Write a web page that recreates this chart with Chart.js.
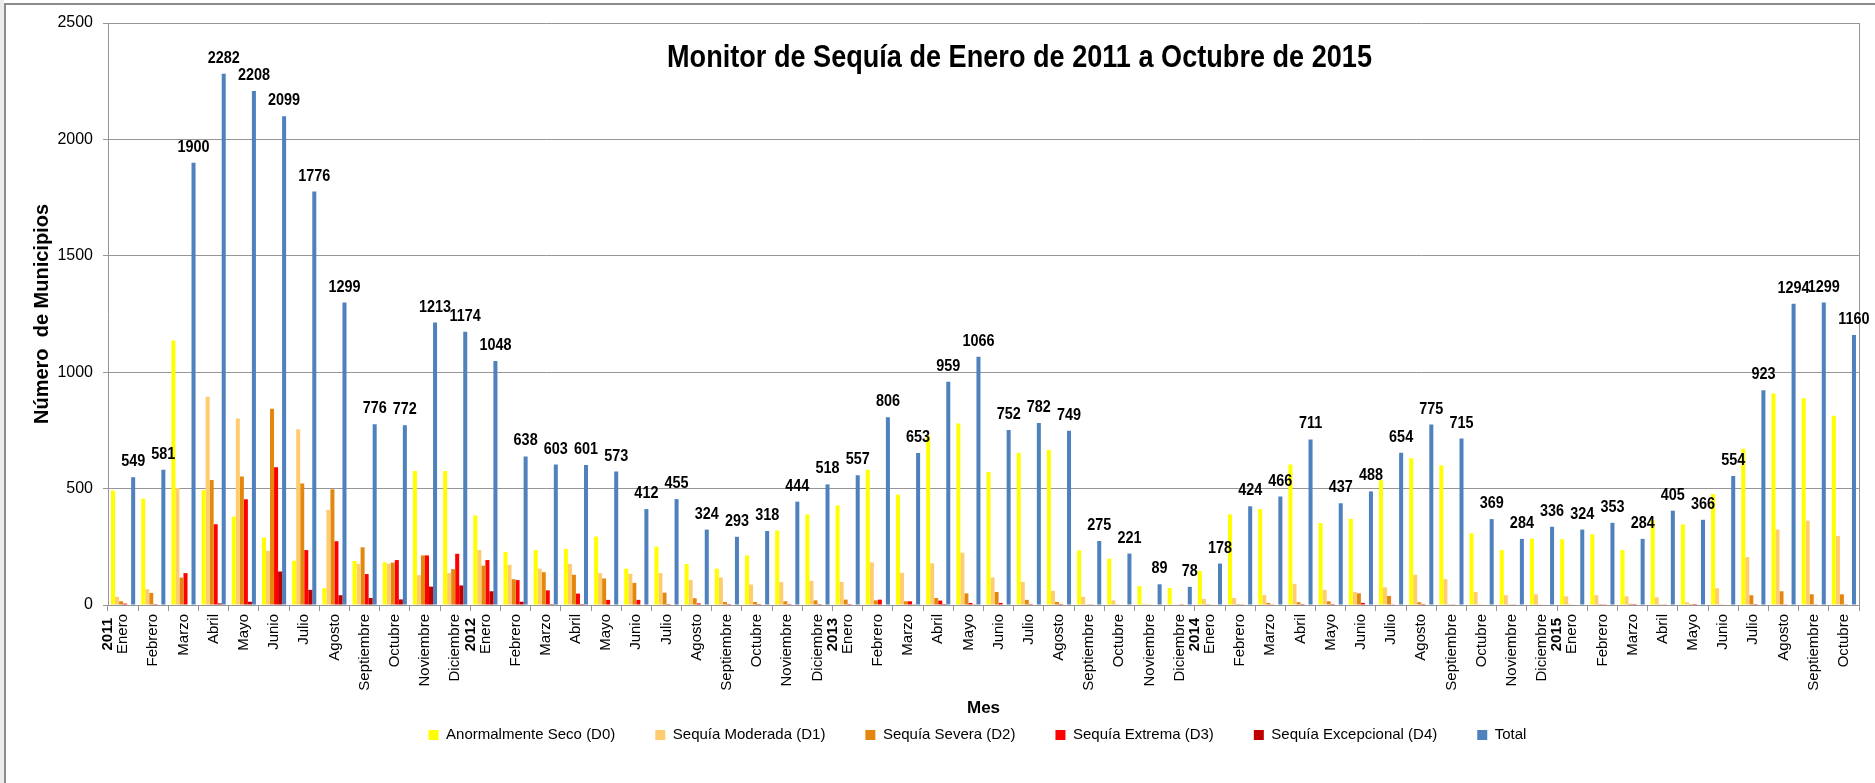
<!DOCTYPE html>
<html>
<head>
<meta charset="utf-8">
<script src="https://cdn.jsdelivr.net/npm/chart.js@4.4.0/dist/chart.umd.min.js"></script>
<style>
html,body{margin:0;padding:0;background:#fff;}
#wrap{position:relative;width:1875px;height:783px;overflow:hidden;}
#strip{position:absolute;left:0;top:0;width:4px;height:783px;background:#ececec;}
#frame{position:absolute;left:4px;top:3px;width:1900px;height:820px;border-top:2px solid #8c8c8c;border-left:2px solid #8c8c8c;}
canvas{position:absolute;left:0;top:0;}
</style>
</head>
<body>
<div id="wrap"><div id="strip"></div><div id="frame"></div><canvas id="c" width="1875" height="783"></canvas></div>
<script>
const months = [
  "Enero","Febrero","Marzo","Abril","Mayo","Junio","Julio","Agosto","Septiembre","Octubre","Noviembre","Diciembre",
  "Enero","Febrero","Marzo","Abril","Mayo","Junio","Julio","Agosto","Septiembre","Octubre","Noviembre","Diciembre",
  "Enero","Febrero","Marzo","Abril","Mayo","Junio","Julio","Agosto","Septiembre","Octubre","Noviembre","Diciembre",
  "Enero","Febrero","Marzo","Abril","Mayo","Junio","Julio","Agosto","Septiembre","Octubre","Noviembre","Diciembre",
  "Enero","Febrero","Marzo","Abril","Mayo","Junio","Julio","Agosto","Septiembre","Octubre"
];
const yearIndex = [0, 12, 24, 36, 48];
const yearLabels = ["2011", "2012", "2013", "2014", "2015"];

const d0 = [492,457,1136,493,380,290,190,72,189,184,576,576,
            385,228,236,241,294,156,251,176,156,213,320,389,
            428,581,474,727,780,571,654,666,235,199,81,73,
            146,389,412,604,352,370,536,630,599,308,236,285,
            282,304,236,366,346,477,671,909,888,813];
const d1 = [35,68,503,895,801,233,755,409,177,177,128,137,
            236,173,156,176,137,134,137,107,118,88,98,104,
            99,183,138,179,225,118,99,61,35,20,5,3,
            26,30,43,91,65,56,76,130,111,56,42,46,
            37,42,37,33,12,72,206,324,362,297];
const d2 = [16,52,118,537,552,843,522,497,248,182,213,154,
            169,111,141,130,114,95,53,29,13,13,16,20,
            23,20,16,30,50,56,22,13,3,3,3,2,
            4,4,9,12,16,50,39,12,3,3,3,3,
            3,4,5,3,4,3,42,59,46,46];
const d3 = [6,4,137,347,454,592,236,274,133,193,213,220,
            193,107,63,49,22,22,4,7,4,4,4,4,
            4,23,16,19,9,9,4,4,3,2,2,1,
            2,3,3,4,4,9,3,4,3,2,3,2,
            2,3,4,3,4,2,4,3,3,3];
const d4 = [0,0,0,7,14,144,65,42,30,24,79,84,
            59,14,4,4,0,0,0,0,0,0,0,0,
            0,0,3,4,3,0,0,0,0,0,0,0,
            0,0,0,0,0,0,0,0,0,0,0,0,
            0,0,0,0,0,0,0,0,0,0];
const total = [549,581,1900,2282,2208,2099,1776,1299,776,772,1213,1174,
               1048,638,603,601,573,412,455,324,293,318,444,518,
               557,806,653,959,1066,752,782,749,275,221,89,78,
               178,424,466,711,437,488,654,775,715,369,284,336,
               324,353,284,405,366,554,923,1294,1299,1160];
const yTicks = [0, 500, 1000, 1500, 2000, 2500];

const titleText = "Monitor de Sequía de Enero de 2011 a Octubre de 2015";
const GRID = '#969696';

function narrowAvailable(ctx) {
  ctx.save();
  ctx.font = '40px "Liberation Sans Narrow", monospace';
  const a = ctx.measureText('MMMMMMMMMM').width;
  ctx.font = '40px monospace';
  const b = ctx.measureText('MMMMMMMMMM').width;
  ctx.restore();
  return Math.abs(a - b) > 2;
}

const decorations = {
  id: 'decorations',
  afterLayout(chart) {
    // place the legend row where the reference has it
    const lg = chart.legend;
    if (lg) {
      const h = lg.bottom - lg.top;
      lg.top = 735 - 7.5 - lg.options.labels.padding;
      lg.bottom = lg.top + h;
      lg.left -= 6;
      lg.right -= 6;
    }
  },
  afterDraw(chart) {
    const ctx = chart.ctx;
    const area = chart.chartArea;
    const xs = chart.scales.x;
    const narrow = narrowAvailable(ctx);
    ctx.save();
    // plot area right border
    ctx.strokeStyle = GRID;
    ctx.lineWidth = 1;
    ctx.beginPath();
    ctx.moveTo(Math.round(area.right) + 0.5, area.top);
    ctx.lineTo(Math.round(area.right) + 0.5, area.bottom);
    ctx.stroke();

    // title
    ctx.fillStyle = '#000';
    ctx.font = narrow ? 'bold 33px "Liberation Sans Narrow", sans-serif' : 'bold 32px "Liberation Sans", Arial, sans-serif';
    const w = ctx.measureText(titleText).width;
    const sx = 705 / w;
    ctx.save();
    ctx.translate((area.left + area.right) / 2 + 36, 58);
    ctx.scale(sx, 1);
    ctx.textAlign = 'center';
    ctx.textBaseline = 'middle';
    ctx.fillText(titleText, 0, 0);
    ctx.restore();

    // total labels
    const meta = chart.getDatasetMeta(5);
    ctx.font = narrow ? 'bold 17px "Liberation Sans Narrow", sans-serif' : 'bold 16px "Liberation Sans", Arial, sans-serif';
    ctx.textAlign = 'center';
    ctx.textBaseline = 'alphabetic';
    meta.data.forEach((bar, i) => {
      ctx.save();
      ctx.translate(bar.x, bar.y - 11);
      if (!narrow) ctx.scale(0.9, 1);
      ctx.fillText(String(total[i]), 0, 0);
      ctx.restore();
    });

    // year labels on x axis
    ctx.font = 'bold 15px "Liberation Sans", Arial, sans-serif';
    yearIndex.forEach((idx, k) => {
      const x = xs.getPixelForValue(idx) - 15;
      ctx.save();
      ctx.translate(x, area.bottom + 13);
      ctx.rotate(-Math.PI / 2);
      ctx.textAlign = 'right';
      ctx.textBaseline = 'middle';
      ctx.fillText(yearLabels[k], 0, 0);
      ctx.restore();
    });
    ctx.restore();
  }
};

const ds = (label, data, color) => ({
  label, data,
  backgroundColor: color,
  borderColor: color,
  borderWidth: 0,
  categoryPercentage: 0.8,
  barPercentage: 1.0
});

new Chart(document.getElementById('c'), {
  type: 'bar',
  data: {
    labels: months,
    datasets: [
      ds('Anormalmente Seco (D0)', d0, '#FFFF00'),
      ds('Sequía Moderada (D1)', d1, '#FFCC70'),
      ds('Sequía Severa (D2)', d2, '#E3870F'),
      ds('Sequía Extrema (D3)', d3, '#FF0000'),
      ds('Sequía Excepcional (D4)', d4, '#C00000'),
      ds('Total', total, '#4F81BD')
    ]
  },
  options: {
    responsive: false,
    devicePixelRatio: 1,
    animation: false,
    layout: { padding: { left: 0, right: 16, top: 23, bottom: 18 } },
    plugins: {
      tooltip: { enabled: false },
      title: { display: false },
      legend: {
        display: true,
        position: 'bottom',
        fullSize: false,
        labels: {
          boxWidth: 10, boxHeight: 10, padding: 40,
          color: '#000',
          font: { family: '"Liberation Sans", Arial, sans-serif', size: 15 }
        }
      }
    },
    scales: {
      x: {
        offset: true,
        grid: { display: true, drawOnChartArea: false, drawTicks: true, tickLength: 6, color: GRID },
        border: { display: true, color: GRID, width: 1 },
        ticks: {
          autoSkip: false, minRotation: 90, maxRotation: 90, padding: 3,
          color: '#000',
          font: { family: '"Liberation Sans", Arial, sans-serif', size: 15 }
        },
        title: {
          display: true, text: 'Mes', color: '#000',
          font: { family: '"Liberation Sans", Arial, sans-serif', size: 17, weight: 'bold' },
          padding: { top: 0, bottom: -19 }
        },
        afterFit(scale) { scale.height = 95; }
      },
      y: {
        min: 0, max: 2500,
        afterBuildTicks(scale) { scale.ticks = yTicks.map(v => ({ value: v })); },
        grid: { color: GRID, tickLength: 5, drawTicks: true },
        border: { display: true, color: GRID, width: 1 },
        ticks: {
          padding: 10, color: '#000',
          font: { family: '"Liberation Sans", Arial, sans-serif', size: 16 },
          callback: (v) => String(v)
        },
        title: {
          display: true, text: 'Número  de Municipios', color: '#000',
          font: { family: '"Liberation Sans", Arial, sans-serif', size: 20, weight: 'bold' },
          padding: { top: 30, bottom: 0 }
        },
        afterFit(scale) { scale.width = 108; }
      }
    }
  },
  plugins: [decorations]
});
</script>
</body>
</html>
